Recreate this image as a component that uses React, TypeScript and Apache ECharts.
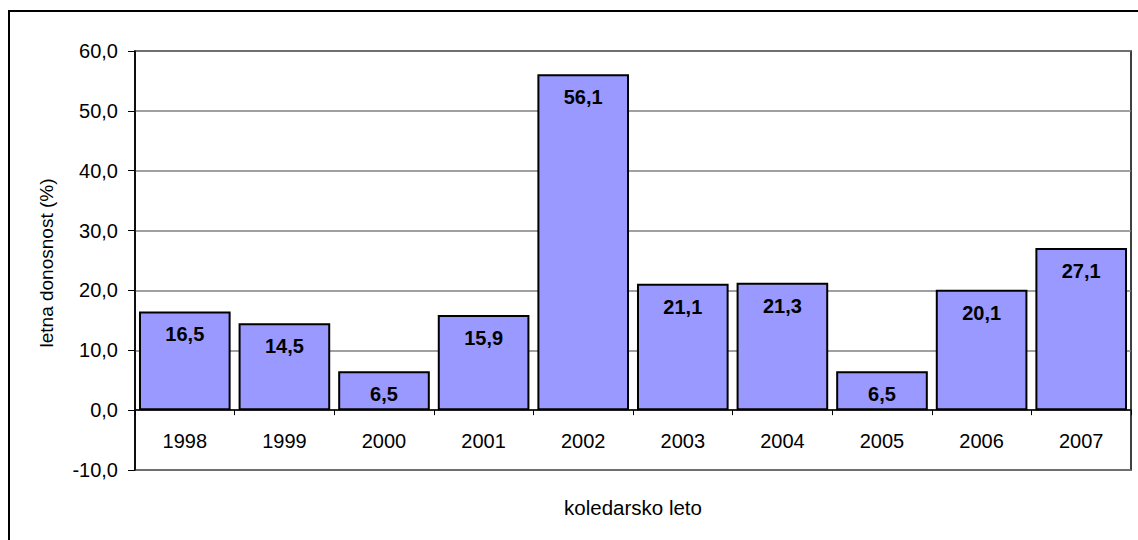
import React, { useEffect, useRef } from "react";
import * as echarts from "echarts";

const years = ["1998", "1999", "2000", "2001", "2002", "2003", "2004", "2005", "2006", "2007"];
const returns = [16.5, 14.5, 6.5, 15.9, 56.1, 21.1, 21.3, 6.5, 20.1, 27.1];
const yAxisTitle = "letna donosnost (%)";
const xAxisTitle = "koledarsko leto";

const fmt = (v: number) => v.toFixed(1).replace(".", ",");
const FONT = "'Liberation Sans', Arial, sans-serif";

export default function App() {
  const ref = useRef<HTMLDivElement>(null);
  useEffect(() => {
    document.body.style.margin = "0";
    const chart = echarts.init(ref.current!, null, { renderer: "svg" });
    chart.setOption({
      animation: false,
      backgroundColor: "#ffffff",
      textStyle: { fontFamily: FONT },
      graphic: [
        {
          type: "rect",
          shape: { x: 9, y: 11, width: 1300, height: 700 },
          style: { fill: "none", stroke: "#000", lineWidth: 2 },
          silent: true,
          z: 100,
        },
        {
          type: "text",
          x: 633,
          y: 507,
          style: {
            text: xAxisTitle,
            fontSize: 20.5,
            fontFamily: FONT,
            fill: "#000",
            align: "center",
            verticalAlign: "middle",
          },
        },
        {
          type: "text",
          x: 46,
          y: 263,
          rotation: Math.PI / 2,
          style: {
            text: yAxisTitle,
            fontSize: 19,
            fontFamily: FONT,
            fill: "#000",
            align: "center",
            verticalAlign: "middle",
          },
        },
      ],
      grid: {
        left: 135,
        right: 7,
        top: 51,
        bottom: 70,
        show: true,
        borderColor: "#000",
        borderWidth: 1.5,
        backgroundColor: "transparent",
        outerBoundsMode: "none",
        containLabel: false,
      },
      xAxis: {
        type: "category",
        data: years,
        axisLine: { onZero: true, lineStyle: { color: "#000", width: 1.5 } },
        axisTick: { show: true, length: 5, inside: false, lineStyle: { color: "#000" } },
        axisLabel: { fontSize: 20, color: "#000", margin: -39, fontFamily: FONT },
        splitLine: { show: false },
      },
      yAxis: {
        type: "value",
        min: -10,
        max: 60,
        interval: 10,
        axisLine: { show: true, lineStyle: { color: "#000", width: 1.5 } },
        axisTick: { show: true, length: 7, inside: false, lineStyle: { color: "#000" } },
        axisLabel: {
          fontSize: 20,
          color: "#000",
          margin: 17,
          fontFamily: FONT,
          formatter: (v: number) => fmt(v),
        },
        splitLine: { show: true, lineStyle: { color: "#808080", width: 1.5 } },
      },
      series: [
        {
          type: "bar",
          data: returns,
          barCategoryGap: "8%",
          itemStyle: { color: "#9999ff", borderColor: "#000", borderWidth: 2 },
          label: {
            show: true,
            position: "insideTop",
            distance: 13,
            fontSize: 20,
            fontWeight: "bold",
            color: "#000",
            fontFamily: FONT,
            formatter: (p: any) => fmt(p.value),
          },
        },
      ],
    });
    return () => chart.dispose();
  }, []);
  return <div ref={ref} style={{ width: 1138, height: 540 }} />;
}
